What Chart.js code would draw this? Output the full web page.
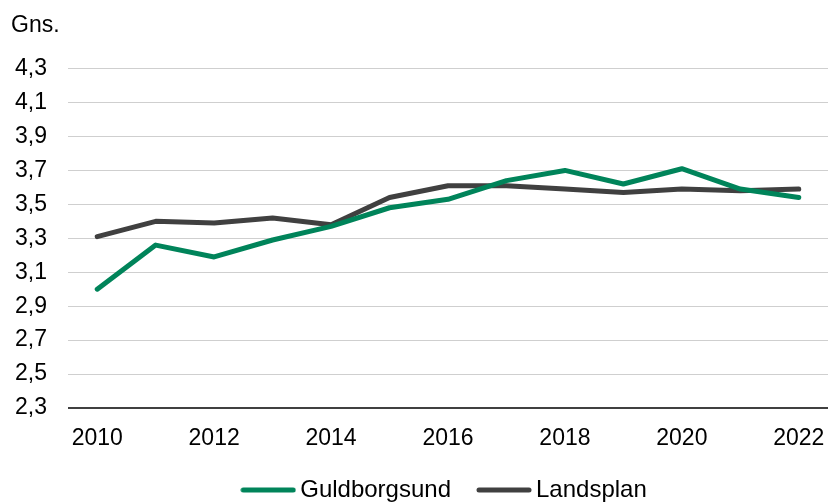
<!DOCTYPE html>
<html>
<head>
<meta charset="utf-8">
<script src="https://cdn.jsdelivr.net/npm/chart.js@4"></script>
<style>
  html, body { margin: 0; padding: 0; background: #fff; }
  #wrap { width: 828px; height: 502px; }
</style>
</head>
<body>
<div id="wrap"><canvas id="chart" width="828" height="502"></canvas></div>
<script>
const years = ['2010','2011','2012','2013','2014','2015','2016','2017','2018','2019','2020','2021','2022'];
const xTickLabels = ['2010','2012','2014','2016','2018','2020','2022'];
const yTickValues = [2.3, 2.5, 2.7, 2.9, 3.1, 3.3, 3.5, 3.7, 3.9, 4.1, 4.3];
const guldborgsund = [3.00, 3.26, 3.19, 3.29, 3.37, 3.48, 3.53, 3.64, 3.70, 3.62, 3.71, 3.59, 3.54];
const landsplan = [3.31, 3.40, 3.39, 3.42, 3.38, 3.54, 3.61, 3.61, 3.59, 3.57, 3.59, 3.58, 3.59];

const font = 'Arial, "Liberation Sans", sans-serif';
const fontSize = 23;
const green = '#00845A';
const grey = '#404040';

// small line image for the legend (rounded ends like the original)
function legendLine(color) {
    const c = document.createElement('canvas');
    c.width = 56;
    c.height = 6;
    const g = c.getContext('2d');
    g.strokeStyle = color;
    g.lineWidth = 5;
    g.lineCap = 'round';
    g.beginPath();
    g.moveTo(3, 3);
    g.lineTo(53, 3);
    g.stroke();
    return c;
}

// legend is shorter than chart.js wants, so that the item gap can stay wide
const legendFit = {
    id: 'legendFit',
    afterInit(chart) {
        const legend = chart.legend;
        if (!legend) return;
        const orig = legend.fit;
        legend.fit = function () {
            orig.call(this);
            this.height = 57;
        };
    },
    afterLayout(chart) {
        if (chart.legend) chart.legend.left += 56;
    }
};

const baseLine = {
    id: 'baseLine',
    afterDatasetsDraw(chart) {
        const { ctx, chartArea, scales } = chart;
        const y = scales.y.getPixelForValue(2.3);
        ctx.save();
        ctx.strokeStyle = '#000';
        ctx.lineWidth = 1.5;
        ctx.beginPath();
        ctx.moveTo(chartArea.left, y);
        ctx.lineTo(chartArea.right, y);
        ctx.stroke();
        ctx.restore();
    }
};

const ctx = document.getElementById('chart').getContext('2d');
new Chart(ctx, {
    type: 'line',
    data: {
        labels: years,
        datasets: [
            {
                label: 'Guldborgsund',
                data: guldborgsund,
                borderColor: green,
                backgroundColor: green,
                borderWidth: 5,
                pointRadius: 0,
                pointStyle: legendLine(green),
                tension: 0,
                borderCapStyle: 'round',
                borderJoinStyle: 'round'
            },
            {
                label: 'Landsplan',
                data: landsplan,
                borderColor: grey,
                backgroundColor: grey,
                borderWidth: 5,
                pointRadius: 0,
                pointStyle: legendLine(grey),
                tension: 0,
                borderCapStyle: 'round',
                borderJoinStyle: 'round'
            }
        ]
    },
    options: {
        responsive: false,
        animation: false,
        layout: { padding: { left: 11, right: 0, top: 0, bottom: 0 } },
        plugins: {
            title: {
                display: true,
                text: 'Gns.',
                align: 'start',
                color: '#000',
                font: { family: font, size: fontSize, weight: 'normal' },
                padding: { top: 12, bottom: 29 }
            },
            legend: {
                position: 'bottom',
                labels: {
                    color: '#000',
                    font: { family: font, size: 24 },
                    usePointStyle: true,
                    pointStyleWidth: 40,
                    padding: 33
                }
            },
            tooltip: { enabled: false }
        },
        scales: {
            x: {
                offset: true,
                grid: { display: false, drawTicks: false },
                border: { display: false },
                afterFit: axis => {
                    axis.paddingLeft = 0;
                    axis.paddingRight = 0;
                    axis.height = 37;
                },
                ticks: {
                    autoSkip: false,
                    maxRotation: 0,
                    color: '#000',
                    padding: 17,
                    font: { family: font, size: fontSize },
                    callback: function (value, index) {
                        const lab = years[index];
                        return xTickLabels.includes(lab) ? lab : '';
                    }
                }
            },
            y: {
                min: 2.3,
                max: 4.3,
                afterBuildTicks: axis => { axis.ticks = yTickValues.map(v => ({ value: v })); },
                afterFit: axis => { axis.width = 57; },
                grid: {
                    drawTicks: false,
                    color: ctx => ctx.index === 0 ? 'rgba(0,0,0,0)' : '#CFCFCF',
                    lineWidth: 1
                },
                border: { display: false },
                ticks: {
                    color: '#000',
                    padding: 21,
                    font: { family: font, size: fontSize },
                    callback: v => v.toFixed(1).replace('.', ',')
                }
            }
        }
    },
    plugins: [legendFit, baseLine]
});
</script>
</body>
</html>
